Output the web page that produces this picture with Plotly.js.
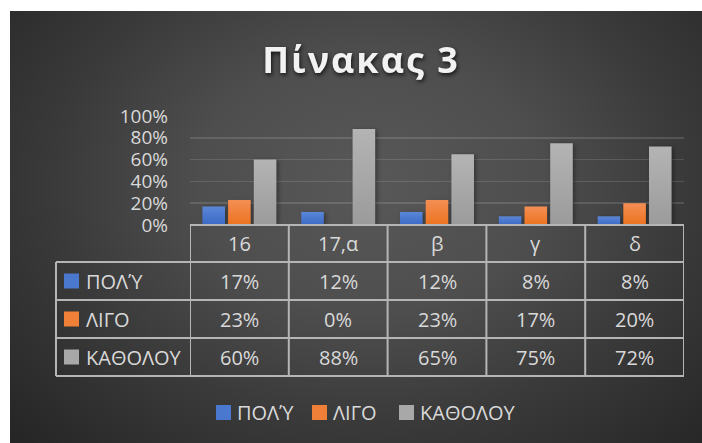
<!DOCTYPE html>
<html><head><meta charset="utf-8">
<script src="https://cdn.plot.ly/plotly-3.0.1.min.js"></script>
<style>
html,body{margin:0;padding:0;background:#ffffff;overflow:hidden;}
#bg{position:absolute;left:10px;top:11px;width:692px;height:432px;
 background:radial-gradient(ellipse 70% 85% at 52% 40%, #585858 0%, #4e4e4e 35%, #3a3a3a 65%, #262626 100%);}
#chart{position:absolute;left:0;top:0;width:702px;height:443px;}
.gtitle{letter-spacing:2px;filter:drop-shadow(1px 2px 2px rgba(0,0,0,0.75));}
.barlayer .point path{filter:drop-shadow(2px 1px 2px rgba(0,0,0,0.35));}
</style></head>
<body><div id="bg"></div><div id="chart"></div>
<script>
// ---- data ----
const categories = ["16", "17,α", "β", "γ", "δ"];
const seriesNames = ["ΠΟΛΎ", "ΛΙΓΟ", "ΚΑΘΟΛΟΥ"];
const polyValues = [0.17, 0.12, 0.12, 0.08, 0.08];
const ligoValues = [0.23, 0.00, 0.23, 0.17, 0.20];
const katholouValues = [0.60, 0.88, 0.65, 0.75, 0.72];
const yTickVals = [0, 0.2, 0.4, 0.6, 0.8, 1.0];
const yTickText = ["0%", "20%", "40%", "60%", "80%", "100%"];
const titleText = "Πίνακας 3";

// ---- style / layout ----
const seriesValues = [polyValues, ligoValues, katholouValues];
const colors = ["#4a78cf", "#f07f37", "#a8a8a8"];
const gradTop = ["#5b87d7", "#f38f55", "#b4b4b4"];
const gradBottom = ["#3b6ac6", "#ec731f", "#9b9b9b"];
const W = 702, H = 443;
const px = x => x / W;
const py = y => 1 - y / H;
const textColor = "#d9d9d9";
const lineColor = "#b5b5b5";
const font = "'Open Sans', 'Noto Sans', sans-serif";
const plotLeft = 190, plotRight = 684, plotTop = 116, plotBottom = 225;
const tableLeft = 56;
const rowLines = [225, 262, 300, 338, 376];
const squareLeft = 64, squareSize = 15, labelLeft = 84;

const traces = seriesNames.map((name, i) => ({
  type: "bar", name: name, x: categories, y: seriesValues[i],
  marker: {color: colors[i], line: {width: 0}},
  hoverinfo: "skip"
}));

const shapes = [];
const annotations = [];
// horizontal table lines
shapes.push({type: "line", xref: "paper", yref: "paper", x0: px(plotLeft), x1: px(plotRight),
  y0: py(rowLines[0]), y1: py(rowLines[0]), line: {color: lineColor, width: 2}});
for (let r = 1; r < rowLines.length; r++) {
  shapes.push({type: "line", xref: "paper", yref: "paper", x0: px(tableLeft), x1: px(plotRight),
    y0: py(rowLines[r]), y1: py(rowLines[r]), line: {color: lineColor, width: 2}});
}
// vertical lines
shapes.push({type: "line", xref: "paper", yref: "paper", x0: px(tableLeft), x1: px(tableLeft),
  y0: py(rowLines[1]), y1: py(rowLines[4]), line: {color: lineColor, width: 2}});
for (let c = 0; c <= categories.length; c++) {
  shapes.push({type: "line", xref: "x", yref: "paper", x0: c - 0.5, x1: c - 0.5,
    y0: py(rowLines[0]), y1: py(rowLines[4]), line: {color: lineColor, width: 2}});
}
// header
categories.forEach((cat, c) => {
  annotations.push({xref: "x", yref: "paper", x: c, y: py((rowLines[0] + rowLines[1]) / 2),
    text: cat, showarrow: false, xanchor: "center", yanchor: "middle",
    font: {family: font, size: 20, color: textColor}});
});
// rows
seriesNames.forEach((name, r) => {
  const yc = (rowLines[r + 1] + rowLines[r + 2]) / 2;
  shapes.push({type: "rect", xref: "paper", yref: "paper",
    x0: px(squareLeft), x1: px(squareLeft + squareSize),
    y0: py(yc - squareSize / 2), y1: py(yc + squareSize / 2),
    fillcolor: colors[r], line: {width: 0}});
  annotations.push({xref: "paper", yref: "paper", x: px(labelLeft), y: py(yc),
    text: name, showarrow: false, xanchor: "left", yanchor: "middle",
    font: {family: font, size: 20, color: textColor}});
  seriesValues[r].forEach((v, c) => {
    annotations.push({xref: "x", yref: "paper", x: c, y: py(yc),
      text: Math.round(v * 100) + "%", showarrow: false, xanchor: "center", yanchor: "middle",
      font: {family: font, size: 20, color: textColor}});
  });
});
// legend
const legendSquares = [216, 312, 399];
const legendY = 412.5;
seriesNames.forEach((name, i) => {
  shapes.push({type: "rect", xref: "paper", yref: "paper",
    x0: px(legendSquares[i]), x1: px(legendSquares[i] + squareSize),
    y0: py(legendY - squareSize / 2), y1: py(legendY + squareSize / 2),
    fillcolor: colors[i], line: {width: 0}});
  annotations.push({xref: "paper", yref: "paper", x: px(legendSquares[i] + squareSize + 4), y: py(legendY),
    text: name, showarrow: false, xanchor: "left", yanchor: "middle",
    font: {family: font, size: 20, color: textColor}});
});

const layout = {
  width: W, height: H,
  margin: {l: 0, r: 0, t: 0, b: 0, pad: 0},
  paper_bgcolor: "rgba(0,0,0,0)", plot_bgcolor: "rgba(0,0,0,0)",
  showlegend: false,
  barmode: "group", bargap: 0.22, bargroupgap: 0.12,
  title: {text: titleText, x: px(361), xanchor: "center", y: py(60.5), yanchor: "middle",
    font: {family: font, size: 36, weight: 700, color: "#f2f2f2"}},
  xaxis: {type: "category", domain: [px(plotLeft), px(plotRight)], range: [-0.5, categories.length - 0.5],
    showticklabels: false, showgrid: false, zeroline: false, showline: false, ticks: "", fixedrange: true},
  yaxis: {domain: [py(plotBottom), py(plotTop)], range: [0, 1], tickvals: yTickVals, ticktext: yTickText,
    showgrid: true, gridcolor: "rgba(255,255,255,0.13)", gridwidth: 1.5, zeroline: false, showline: false,
    ticks: "", ticklabelstandoff: 21, tickfont: {family: font, size: 19, color: textColor}, fixedrange: true},
  shapes: shapes, annotations: annotations
};
Plotly.newPlot("chart", traces, layout, {displayModeBar: false, staticPlot: true}).then(gd => {
  const svg = gd.querySelector(".main-svg");
  const NS = "http://www.w3.org/2000/svg";
  let defs = svg.querySelector("defs");
  if (!defs) { defs = document.createElementNS(NS, "defs"); svg.insertBefore(defs, svg.firstChild); }
  seriesNames.forEach((n, i) => {
    const g = document.createElementNS(NS, "linearGradient");
    g.setAttribute("id", "barGrad" + i);
    g.setAttribute("x1", "0"); g.setAttribute("y1", "0"); g.setAttribute("x2", "0"); g.setAttribute("y2", "1");
    [[0, gradTop[i]], [1, gradBottom[i]]].forEach(([o, c]) => {
      const s = document.createElementNS(NS, "stop");
      s.setAttribute("offset", o); s.setAttribute("stop-color", c);
      g.appendChild(s);
    });
    defs.appendChild(g);
  });
  gd.querySelectorAll(".barlayer .trace.bars").forEach((t, i) => {
    t.querySelectorAll(".point path").forEach(p => { p.style.fill = "url(#barGrad" + i + ")"; });
  });
});
</script>
</body></html>
